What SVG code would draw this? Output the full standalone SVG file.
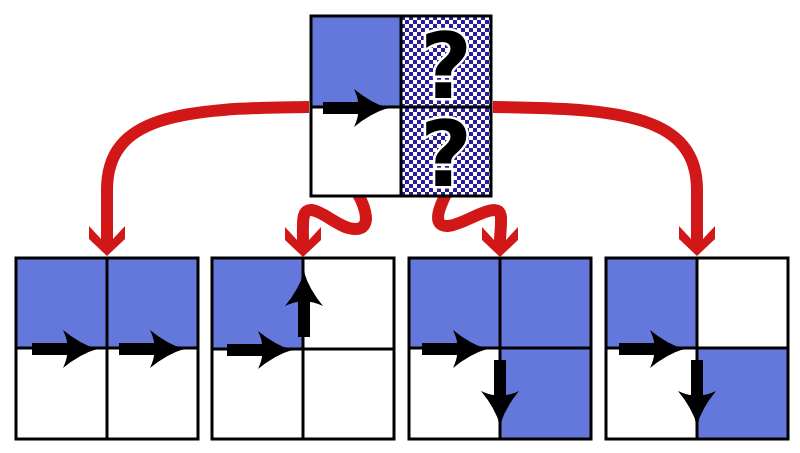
<svg xmlns="http://www.w3.org/2000/svg" xmlns:xlink="http://www.w3.org/1999/xlink" width="800" height="453" viewBox="0 0 800 453">
<style>
.blue{fill:#6478dc}
.frame{fill:none;stroke:#000;stroke-width:3}
.grid{stroke:#000;stroke-width:3}
.conn{fill:none;stroke:#d11717;stroke-width:12}
.rh{fill:#d11717}
.ba{fill:#000}
.q{font-family:"DejaVu Sans","Liberation Sans",sans-serif;font-weight:bold;font-size:90px;fill:#000;stroke:#fff;stroke-width:5;paint-order:stroke;text-anchor:middle}
</style>
<defs>
<pattern id="chk" patternUnits="userSpaceOnUse" x="401" y="16" width="8" height="8">
<rect width="8" height="8" fill="#fff"/>
<rect width="4" height="4" fill="#2b1d9a"/>
<rect x="4" y="4" width="4" height="4" fill="#2b1d9a"/>
</pattern>
<path id="ba" d="M0,0 Q-17,-5 -34,-19 Q-30,-10 -30,-6 L-65,-6 L-65,6 L-30,6 Q-30,10 -34,19 Q-17,5 0,0 Z"/>
<path id="rh" d="M0,0 L-18,-17 L-18,-30 L-6,-17 L6,-17 L18,-30 L18,-17 Z"/>
</defs>
<rect width="800" height="453" fill="#fff"/>
<g id="connectors">
<path class="conn" d="M309,107 C180,108 107,116 107,190 L107,242"/>
<use class="rh" href="#rh" transform="translate(107,256)"/>
<path class="conn" d="M493,107 C622,108 697,116 697,190 L697,242"/>
<use class="rh" href="#rh" transform="translate(697,256)"/>
<path class="conn" d="M358,194 C365,207 373,229 355,229 C340,229 325,212 312,210 C301,209 303,222 303,243"/>
<use class="rh" href="#rh" transform="translate(303,257)"/>
<path class="conn" d="M447,192 C442,202 429,227 448,226 C462,225 482,210 494,210 C505,210 500,225 500,243"/>
<use class="rh" href="#rh" transform="translate(500,257)"/>
</g>
<g id="node-top">
<rect x="311" y="16" width="180" height="180" fill="#fff"/>
<rect class="blue" x="311" y="16" width="90" height="91"/>
<rect x="401" y="16" width="90" height="180" fill="url(#chk)"/>
<text class="q"><tspan x="446" y="98">?</tspan><tspan x="446" y="186">?</tspan></text>
<use class="ba" href="#ba" transform="translate(388,108)"/>
<rect class="frame" x="311" y="16" width="180" height="180"/>
<line class="grid" x1="401" y1="16" x2="401" y2="196"/>
<line class="grid" x1="311" y1="107" x2="491" y2="107"/>
</g>
<g id="node-1">
<rect x="16" y="258" width="182" height="181" fill="#fff"/>
<rect class="blue" x="16" y="258" width="182" height="90"/>
<use class="ba" href="#ba" transform="translate(97,349)"/>
<use class="ba" href="#ba" transform="translate(184,349)"/>
<rect class="frame" x="16" y="258" width="182" height="181"/>
<line class="grid" x1="107" y1="258" x2="107" y2="439"/>
<line class="grid" x1="16" y1="348" x2="198" y2="348"/>
</g>
<g id="node-2">
<rect x="212" y="258" width="182" height="181" fill="#fff"/>
<rect class="blue" x="212" y="258" width="91" height="90"/>
<use class="ba" href="#ba" transform="translate(292,350)"/>
<use class="ba" href="#ba" transform="translate(304,272) rotate(-90)"/>
<rect class="frame" x="212" y="258" width="182" height="181"/>
<line class="grid" x1="303" y1="258" x2="303" y2="439"/>
<line class="grid" x1="212" y1="349" x2="394" y2="349"/>
</g>
<g id="node-3">
<rect x="409" y="258" width="182" height="181" fill="#fff"/>
<rect class="blue" x="409" y="258" width="182" height="90"/>
<rect class="blue" x="500" y="348" width="91" height="91"/>
<use class="ba" href="#ba" transform="translate(487,349)"/>
<use class="ba" href="#ba" transform="translate(500,425) rotate(90)"/>
<rect class="frame" x="409" y="258" width="182" height="181"/>
<line class="grid" x1="500" y1="258" x2="500" y2="439"/>
<line class="grid" x1="409" y1="348" x2="591" y2="348"/>
</g>
<g id="node-4">
<rect x="606" y="258" width="182" height="181" fill="#fff"/>
<rect class="blue" x="606" y="258" width="91" height="90"/>
<rect class="blue" x="697" y="348" width="91" height="91"/>
<use class="ba" href="#ba" transform="translate(684,349)"/>
<use class="ba" href="#ba" transform="translate(697,425) rotate(90)"/>
<rect class="frame" x="606" y="258" width="182" height="181"/>
<line class="grid" x1="697" y1="258" x2="697" y2="439"/>
<line class="grid" x1="606" y1="348" x2="788" y2="348"/>
</g>
</svg>
